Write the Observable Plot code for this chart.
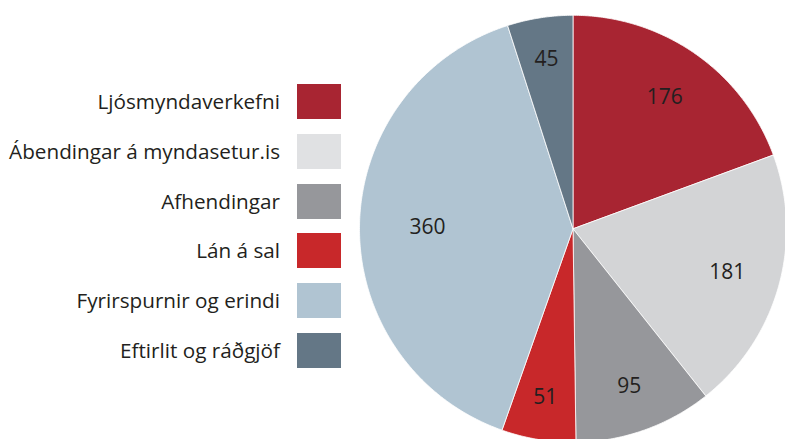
<!DOCTYPE html>
<html>
<head>
<meta charset="utf-8">
<script src="https://cdn.jsdelivr.net/npm/d3@7"></script>
<script src="https://cdn.jsdelivr.net/npm/@observablehq/plot@0.6"></script>
<style>
  html, body { margin: 0; padding: 0; background: #fff; }
  #wrap { position: relative; width: 785px; height: 439px; overflow: hidden; font-family: "Open Sans", sans-serif; }
  #chart { position: absolute; left: 0; top: 0; }
  .item { position: absolute; left: 0; width: 341px; height: 35px; }
  .item .lbl { position: absolute; right: 61px; top: 0; line-height: 35px; font-size: 20.7px; color: #231F20; white-space: nowrap; }
  .item .sw { position: absolute; left: 297px; top: 0; width: 44px; height: 35px; }
</style>
</head>
<body>
<div id="wrap">
  <div id="chart"></div>
  <div id="legend"></div>
</div>
<script>
const labels = ["Ljósmyndaverkefni", "Ábendingar á myndasetur.is", "Afhendingar", "Lán á sal", "Fyrirspurnir og erindi", "Eftirlit og ráðgjöf"];
const values = [176, 181, 95, 51, 360, 45];
const sliceColors = ["#A82532", "#D3D4D6", "#96979B", "#C8282A", "#B0C4D2", "#647786"];
const legendColors = ["#A82532", "#E0E1E3", "#96979B", "#C8282A", "#B0C4D2", "#647786"];

const total = d3.sum(values);
const arcs = d3.pie().sort(null).value(d => d)(values);

const slicePoints = [];
const labelPoints = [];
arcs.forEach((a, i) => {
  const label = labels[i];
  const n = Math.max(2, Math.ceil((a.endAngle - a.startAngle) / (Math.PI / 360)));
  slicePoints.push({label, x: 0, y: 0});
  for (let k = 0; k <= n; k++) {
    const t = a.startAngle + (a.endAngle - a.startAngle) * k / n;
    slicePoints.push({label, x: Math.sin(t), y: Math.cos(t)});
  }
  slicePoints.push({label, x: 0, y: 0});
  const mid = (a.startAngle + a.endAngle) / 2;
  const share = values[i] / total;
  const r = 0.82 - 0.35 * share;
  labelPoints.push({label, value: values[i], x: r * Math.sin(mid), y: r * Math.cos(mid)});
});

const chart = Plot.plot({
  width: 785,
  height: 439,
  margin: 0,
  style: {fontFamily: "'Open Sans', sans-serif", background: "transparent"},
  x: {domain: [-1, 1], range: [359, 786], axis: null},
  y: {domain: [-1, 1], range: [441.8, 14.8], axis: null},
  color: {domain: labels, range: sliceColors},
  marks: [
    Plot.line(slicePoints, {x: "x", y: "y", z: "label", fill: "label", stroke: "white", strokeWidth: 0.8, curve: "linear"}),
    Plot.text(labelPoints, {x: "x", y: "y", text: d => String(d.value), fontSize: 21, fill: "#231F20"})
  ]
});
document.getElementById("chart").appendChild(chart);

const legend = document.getElementById("legend");
labels.forEach((l, i) => {
  const div = document.createElement("div");
  div.className = "item";
  div.style.top = (84 + 49.8 * i) + "px";
  const t = document.createElement("span");
  t.className = "lbl";
  t.textContent = l;
  const s = document.createElement("span");
  s.className = "sw";
  s.style.background = legendColors[i];
  div.appendChild(t);
  div.appendChild(s);
  legend.appendChild(div);
});
</script>
</body>
</html>
